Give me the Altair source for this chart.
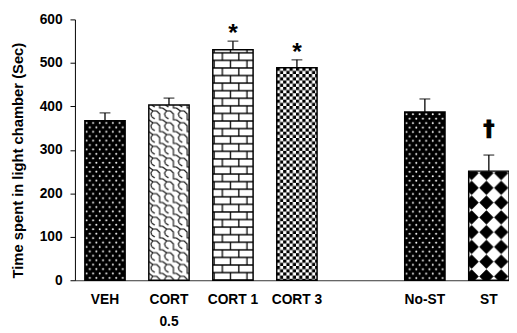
import base64
import altair as alt
import pandas as pd

# ---- data ----
domain_cats = ["VEH", "CORT 0.5", "CORT 1", "CORT 3", "gap", "No-ST", "ST"]
bar_cats = ["VEH", "CORT 0.5", "CORT 1", "CORT 3", "No-ST", "ST"]
means = [367, 403, 530, 489, 387, 251]
sems = [18, 16, 20, 18, 30, 37]
signs = ["", "", "*", "*", "", "†"]
patterns = ["dots", "weave", "bricks", "checker", "dots", "diamonds"]

# ---- layout ----
W, H = 441, 265
YMAX = 600
P_IN, P_OUT = 0.37, 0.0775
step = W / (len(domain_cats) - P_IN + 2 * P_OUT)
bw = step * (1 - P_IN)
FONT = "Liberation Sans"


def pattern_def(kind):
    if kind == "dots":
        return ('<pattern id="p" width="6.7" height="9" patternUnits="userSpaceOnUse">'
                '<rect width="6.7" height="9" fill="#000"/>'
                '<circle cx="1.7" cy="2.2" r="1" fill="#fff"/>'
                '<circle cx="5.05" cy="6.7" r="1" fill="#fff"/></pattern>')
    if kind == "weave":
        return ('<pattern id="p" width="14" height="12" patternUnits="userSpaceOnUse">'
                '<rect width="14" height="12" fill="#fff"/>'
                '<path d="M0,3 L4,6 L8,6 L11,9 L11,12 M11,0 L11,3 L14,3 M4,6 L2,9 L3,12 M3,0 L6,2" '
                'stroke="#000" stroke-width="1.1" fill="none"/></pattern>')
    if kind == "bricks":
        return ('<pattern id="p" x="0" y="3" width="16.7" height="15.4" patternUnits="userSpaceOnUse">'
                '<rect width="16.7" height="15.4" fill="#fff"/>'
                '<path d="M0,0 H16.7 M0,7.7 H16.7 M0,15.4 H16.7 M9.7,0 V7.7 M1.35,7.7 V15.4" '
                'stroke="#000" stroke-width="1.3" fill="none"/></pattern>')
    if kind == "checker":
        return ('<pattern id="p" width="6.5" height="6.5" patternUnits="userSpaceOnUse">'
                '<rect width="6.5" height="6.5" fill="#fff"/>'
                '<rect width="3.25" height="3.25" fill="#000"/>'
                '<rect x="3.25" y="3.25" width="3.25" height="3.25" fill="#000"/></pattern>')
    # diamonds
    return ('<pattern id="p" x="-4.5" y="-5.5" width="15" height="15" patternUnits="userSpaceOnUse">'
            '<rect width="15" height="15" fill="#fff"/>'
            '<path d="M7.5,0.6 L14.4,7.5 L7.5,14.4 L0.6,7.5 Z" fill="#000" '
            'stroke="#000" stroke-width="0.6" stroke-linejoin="round"/></pattern>')


def pattern_url(kind, value):
    h = value / YMAX * H
    svg = (f'<svg xmlns="http://www.w3.org/2000/svg" width="{bw:.3f}" height="{h:.3f}" '
           f'viewBox="0 0 {bw:.3f} {h:.3f}" preserveAspectRatio="none"><defs>{pattern_def(kind)}</defs>'
           f'<rect width="{bw:.3f}" height="{h:.3f}" fill="url(#p)"/></svg>')
    return "data:image/svg+xml;base64," + base64.b64encode(svg.encode("utf-8")).decode("ascii")


df = pd.DataFrame({
    "cat": bar_cats,
    "mean": means,
    "sem": sems,
    "sign": signs,
})
df["upper"] = df["mean"] + df["sem"]
df["url"] = [pattern_url(k, v) for k, v in zip(patterns, means)]

x_enc = alt.X(
    "cat:N",
    sort=domain_cats,
    scale=alt.Scale(domain=domain_cats, paddingInner=P_IN, paddingOuter=P_OUT, align=1),
    axis=alt.Axis(
        title=None,
        labelAngle=0,
        ticks=False,
        labelPadding=13,
        labelFont=FONT,
        labelFontSize=14,
        labelFontWeight="bold",
        labelColor="#000",
        labelLineHeight=22,
        labelExpr="datum.value == 'CORT 0.5' ? ['CORT', '0.5'] : (datum.value == 'gap' ? '' : datum.value)",
        domainColor="#333",
        domainWidth=1,
    ),
)
y_scale = alt.Scale(domain=[0, YMAX], nice=False)
y_axis = alt.Axis(
    title="Time spent in light chamber (Sec)",
    values=[0, 100, 200, 300, 400, 500, 600],
    grid=False,
    tickSize=5,
    tickColor="#000",
    domainColor="#000",
    labelPadding=8,
    labelFont=FONT,
    labelFontSize=14,
    labelFontWeight="bold",
    labelColor="#000",
    titleFont=FONT,
    titleFontSize=15,
    titleFontWeight="bold",
    titleColor="#000",
    titleAngle=-90,
    titleAlign="center",
    titleBaseline="middle",
    titleX=-58,
    titleY=143,
)

base = alt.Chart(df)

fills = base.mark_image(aspect=False).encode(
    x=x_enc,
    y=alt.Y("mean:Q", scale=y_scale, axis=y_axis),
    y2=alt.datum(0),
    url="url:N",
)

outlines = base.mark_bar(fill="transparent", stroke="#000", strokeWidth=1.5).encode(
    x=alt.X("cat:N", sort=domain_cats),
    y=alt.Y("mean:Q"),
)

stems = base.mark_rule(color="#000", strokeWidth=1.3).encode(
    x=alt.X("cat:N", sort=domain_cats),
    y=alt.Y("mean:Q"),
    y2="upper:Q",
)

caps = base.mark_tick(color="#000", thickness=1.3, size=11).encode(
    x=alt.X("cat:N", sort=domain_cats),
    y=alt.Y("upper:Q"),
)

stars = base.transform_filter(alt.datum.sign == "*").mark_text(
    font=FONT, fontSize=25, fontWeight="bold", color="#000", baseline="alphabetic", dy=0
).encode(
    x=alt.X("cat:N", sort=domain_cats),
    y=alt.Y("upper:Q"),
    text="sign:N",
)

dagger = base.transform_filter(alt.datum.sign == "†").mark_text(
    font="DejaVu Sans", fontSize=22, fontWeight="bold", color="#000",
    stroke="#000", strokeWidth=1.2, baseline="alphabetic", dy=-19
).encode(
    x=alt.X("cat:N", sort=domain_cats),
    y=alt.Y("upper:Q"),
    text="sign:N",
)

chart = alt.layer(fills, outlines, stems, caps, stars, dagger).properties(
    width=W,
    height=H,
    autosize=alt.AutoSizeParams(type="none"),
    padding={"left": 68, "top": 9, "right": 0, "bottom": 51},
    background="#ffffff",
).configure_view(stroke=None)

chart.save("out.html", embed_options={"renderer": "svg", "actions": False})
